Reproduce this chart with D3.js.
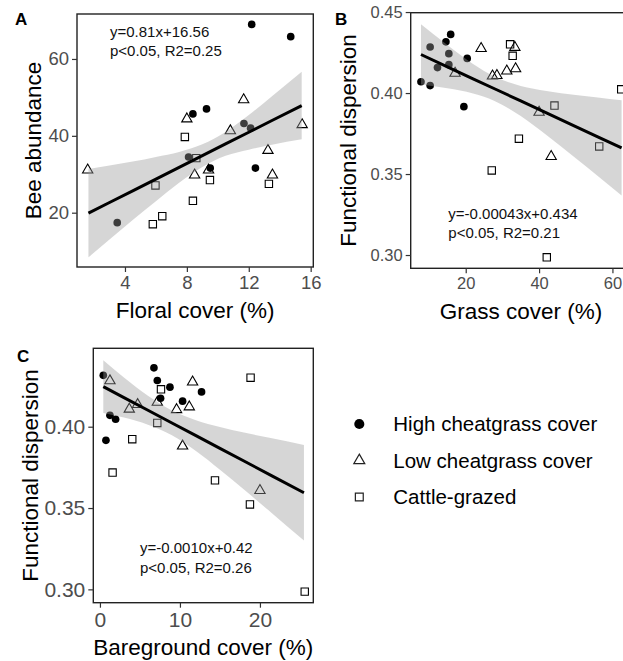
<!DOCTYPE html>
<html>
<head>
<meta charset="utf-8">
<script src="https://cdn.jsdelivr.net/npm/d3@7"></script>
<style>
  body { margin: 0; background: #fff; }
  svg { display: block; font-family: "Liberation Sans", Arial, sans-serif; }
</style>
</head>
<body>
<svg id="fig" width="623" height="661"></svg>
<script>
// site groups
var groups = ["High cheatgrass cover", "Low cheatgrass cover", "Cattle-grazed"];

// panel A: floral cover vs bee abundance
var floralHigh = [12.19, 14.71, 8.39, 9.27, 11.69, 12.12, 8.11, 9.51, 12.43, 3.5];
var beeHigh    = [69.0, 65.8, 45.7, 47.0, 43.2, 42.0, 34.5, 31.6, 31.6, 17.4];
var floralLow  = [1.59, 8.0, 11.67, 10.81, 15.45, 13.24, 13.53, 8.5, 9.4];
var beeLow     = [31.1, 44.4, 49.4, 41.3, 42.9, 36.2, 29.8, 29.8, 31.1];
var floralCattle = [7.87, 8.61, 5.97, 9.49, 8.39, 6.41, 5.8, 13.3];
var beeCattle    = [39.7, 34.2, 27.1, 28.5, 23.1, 19.1, 17.0, 27.5];

// functional dispersion per site, shared by panels B and C
var fdHigh   = [0.3916, 0.4046, 0.4070, 0.4157, 0.4175, 0.4214, 0.4243, 0.4284, 0.4316, 0.4362];
var grassHigh = [19.5, 10.3, 7.8, 12.3, 15.4, 20.4, 15.4, 10.3, 14.6, 15.9];
var bareHigh  = [0.75, 1.96, 1.25, 10.33, 7.58, 12.7, 8.75, 7.17, 0.42, 6.75];
var fdLow    = [0.3608, 0.3881, 0.4105, 0.4108, 0.4122, 0.4136, 0.4150, 0.4275, 0.4282];
var grassLow  = [43.3, 40.0, 27.3, 28.5, 17.1, 31.2, 33.6, 24.2, 33.4];
var bareLow   = [20.0, 10.33, 9.58, 3.67, 11.17, 4.71, 7.17, 11.58, 1.25];
var fdCattle = [0.2986, 0.3522, 0.3670, 0.3718, 0.3923, 0.4023, 0.4230, 0.4301];
var grassCattle = [42.1, 27.1, 56.4, 34.5, 44.2, 62.4, 32.8, 32.1];
var bareCattle  = [25.6, 18.75, 14.38, 1.58, 4.04, 7.17, 7.63, 18.83];

// fitted lines and 95% bands
var fitAx = [1.64, 3, 4.5, 6, 7.5, 9, 10.5, 12, 13.5, 15.42];
var fitAy = [19.9, 22.66, 25.7, 28.75, 31.8, 34.84, 37.89, 40.93, 43.98, 47.87];
var fitAlo = [8.4, 13.0, 18.1, 23.0, 27.8, 31.9, 34.8, 36.4, 37.7, 39.1];
var fitAhi = [31.4, 32.3, 33.3, 34.5, 35.8, 37.8, 41.0, 45.4, 50.3, 56.7];

var fitBx = [7.8, 15, 22, 28, 35, 42, 50, 56, 62.5];
var fitBy = [0.4238, 0.4162, 0.4088, 0.4025, 0.3951, 0.3877, 0.3793, 0.3730, 0.3661];
var fitBlo = [0.4052, 0.4029, 0.3997, 0.3950, 0.3858, 0.3741, 0.3598, 0.3488, 0.3367];
var fitBhi = [0.4424, 0.4296, 0.4179, 0.4100, 0.4044, 0.4013, 0.3988, 0.3972, 0.3955];

var fitCx = [0.42, 3, 6, 9, 12, 15, 18, 21.5, 25.5];
var fitCy = [0.4246, 0.4179, 0.4101, 0.4023, 0.3945, 0.3867, 0.3789, 0.3698, 0.3594];
var fitClo = [0.4085, 0.4056, 0.4012, 0.3947, 0.3851, 0.3736, 0.3614, 0.3468, 0.3300];
var fitChi = [0.4409, 0.4302, 0.4190, 0.4099, 0.4040, 0.3998, 0.3964, 0.3929, 0.3888];

var eqA = ["y=0.81x+16.56", "p<0.05, R2=0.25"];
var eqB = ["y=-0.00043x+0.434", "p<0.05, R2=0.21"];
var eqC = ["y=-0.0010x+0.42", "p<0.05, R2=0.26"];

var svg = d3.select("#fig");

function zip(xs, ys, g) {
  return xs.map(function (x, i) { return { x: x, y: ys[i], g: g }; });
}

var symbolOf = {
  "High cheatgrass cover": d3.symbol().type(d3.symbolCircle).size(46),
  "Low cheatgrass cover": d3.symbol().type(d3.symbolTriangle).size(46),
  "Cattle-grazed": d3.symbol().type(d3.symbolSquare).size(54)
};

function drawPoint(sel, g) {
  sel.attr("d", symbolOf[g]())
    .attr("fill", g === groups[0] ? "#000" : "none")
    .attr("stroke", g === groups[0] ? "none" : "#000")
    .attr("stroke-width", 1.1);
}

function panel(o) {
  var x = d3.scaleLinear().domain(o.xd).range(o.xr);
  var y = d3.scaleLinear().domain(o.yd).range(o.yr);
  var g = svg.append("g");

  // points first, ribbon goes over them like geom_smooth does
  o.points.forEach(function (p) {
    g.append("path")
      .attr("transform", "translate(" + x(p.x) + "," + y(p.y) + ")")
      .call(drawPoint, p.g);
  });

  var band = o.fx.map(function (v, i) { return { x: v, lo: o.flo[i], hi: o.fhi[i] }; });
  g.append("path")
    .datum(band)
    .attr("fill", "#999")
    .attr("fill-opacity", 0.4)
    .attr("d", d3.area().curve(d3.curveMonotoneX)
      .x(function (d) { return x(d.x); })
      .y0(function (d) { return y(d.lo); })
      .y1(function (d) { return y(d.hi); }));

  g.append("path")
    .datum(o.fx.map(function (v, i) { return [v, o.fy[i]]; }))
    .attr("fill", "none")
    .attr("stroke", "#000")
    .attr("stroke-width", 3)
    .attr("d", d3.line().x(function (d) { return x(d[0]); }).y(function (d) { return y(d[1]); }));

  // frame
  g.append("rect")
    .attr("x", o.xr[0]).attr("y", o.yr[1])
    .attr("width", o.xr[1] - o.xr[0]).attr("height", o.yr[0] - o.yr[1])
    .attr("fill", "none").attr("stroke", "#222").attr("stroke-width", 1.4);

  var ax = g.append("g")
    .attr("transform", "translate(0," + o.yr[0] + ")")
    .call(d3.axisBottom(x).tickValues(o.xt).tickFormat(o.xf).tickSize(5).tickPadding(4));
  var ay = g.append("g")
    .attr("transform", "translate(" + o.xr[0] + ",0)")
    .call(d3.axisLeft(y).tickValues(o.yt).tickFormat(o.yf).tickSize(5).tickPadding(3));
  [ax, ay].forEach(function (a) {
    a.select(".domain").remove();
    a.selectAll("line").attr("stroke", "#333").attr("stroke-width", 1.2);
    a.selectAll("text").attr("fill", "#4d4d4d").style("font-size", o.tickSize + "px")
      .style("font-family", "'Liberation Sans', Arial, sans-serif");
  });

  // axis titles
  g.append("text")
    .attr("x", (o.xr[0] + o.xr[1]) / 2).attr("y", o.xtY)
    .attr("text-anchor", "middle").style("font-size", "22.5px")
    .text(o.xlab);
  g.append("text")
    .attr("transform", "translate(" + o.ytX + "," + (o.yr[0] + o.yr[1]) / 2 + ") rotate(-90)")
    .attr("text-anchor", "middle").style("font-size", "22.5px")
    .text(o.ylab);

  // panel letter
  g.append("text").attr("x", o.lab[0]).attr("y", o.lab[1])
    .style("font-size", "17px").style("font-weight", "bold").text(o.letter);

  // regression text
  o.eq.forEach(function (t, i) {
    g.append("text").attr("x", o.eqPos[0]).attr("y", o.eqPos[1] + i * 19.6)
      .style("font-size", "15px").attr("fill", "#111").text(t);
  });
}

panel({
  letter: "A", lab: [15, 25],
  xd: [0.9, 16.17], xr: [77, 313.3], yd: [5.87, 71.7], yr: [267, 14],
  xt: [4, 8, 12, 16], yt: [20, 40, 60], xf: d3.format("d"), yf: d3.format("d"),
  tickSize: 18.5, xtY: 318, ytX: 41,
  xlab: "Floral cover (%)", ylab: "Bee abundance",
  points: zip(floralHigh, beeHigh, groups[0])
    .concat(zip(floralLow, beeLow, groups[1]), zip(floralCattle, beeCattle, groups[2])),
  fx: fitAx, fy: fitAy, flo: fitAlo, fhi: fitAhi,
  eq: eqA, eqPos: [110, 36.7]
});

panel({
  letter: "B", lab: [335, 25],
  xd: [5.0, 65.2], xr: [410.7, 631.5], yd: [0.2918, 0.4496], yr: [268.3, 12.7],
  xt: [20, 40, 60], yt: [0.30, 0.35, 0.40, 0.45], xf: d3.format("d"), yf: d3.format(".2f"),
  tickSize: 16.5, xtY: 319, ytX: 356,
  xlab: "Grass cover (%)", ylab: "Functional dispersion",
  points: zip(grassHigh, fdHigh, groups[0])
    .concat(zip(grassLow, fdLow, groups[1]), zip(grassCattle, fdCattle, groups[2])),
  fx: fitBx, fy: fitBy, flo: fitBlo, fhi: fitBhi,
  eq: eqB, eqPos: [448.3, 218.5]
});

panel({
  letter: "C", lab: [17, 362],
  xd: [-0.83, 26.67], xr: [93.3, 313.3], yd: [0.2918, 0.4482], yr: [602.7, 348.3],
  xt: [0, 10, 20], yt: [0.30, 0.35, 0.40], xf: d3.format("d"), yf: d3.format(".2f"),
  tickSize: 21, xtY: 655, ytX: 38,
  xlab: "Bareground cover (%)", ylab: "Functional dispersion",
  points: zip(bareHigh, fdHigh, groups[0])
    .concat(zip(bareLow, fdLow, groups[1]), zip(bareCattle, fdCattle, groups[2])),
  fx: fitCx, fy: fitCy, flo: fitClo, fhi: fitChi,
  eq: eqC, eqPos: [140, 553.3]
});

// legend
var legend = svg.append("g");
var legendSymbols = {
  "High cheatgrass cover": d3.symbol().type(d3.symbolCircle).size(80),
  "Low cheatgrass cover": d3.symbol().type(d3.symbolTriangle).size(52),
  "Cattle-grazed": d3.symbol().type(d3.symbolSquare).size(62)
};
var legendY = d3.scalePoint().domain(groups).range([424, 497]);
groups.forEach(function (g, i) {
  legend.append("path")
    .attr("transform", "translate(359.3," + legendY(g) + ")")
    .attr("d", legendSymbols[g]())
    .attr("fill", i === 0 ? "#000" : "none")
    .attr("stroke", i === 0 ? "none" : "#222")
    .attr("stroke-width", 1.2);
  legend.append("text")
    .attr("x", 393.3).attr("y", legendY(g) + 7)
    .style("font-size", "20.5px").text(g);
});
</script>
</body>
</html>
